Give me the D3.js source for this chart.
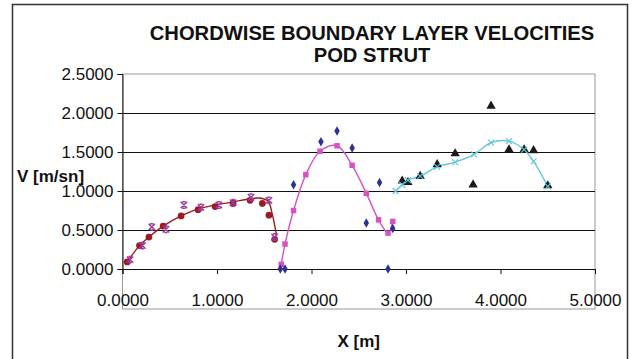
<!DOCTYPE html>
<html lang="en">
<head>
<meta charset="UTF-8" />
<title>Chordwise boundary layer velocities</title>
<style>
  body { margin: 0; background: #fff; }
  svg text { font-family: "Liberation Sans", Arial, sans-serif; fill: #111; }
</style>
</head>
<body>
<script src="https://cdn.jsdelivr.net/npm/d3@7"></script>
<div id="app"></div>
<script>
  // data (X [m], V [m/sn])
  const redCircles = [
    [0.05, 0.09], [0.18, 0.30], [0.28, 0.41], [0.43, 0.55], [0.62, 0.68], [0.80, 0.76],
    [0.98, 0.80], [1.17, 0.84], [1.35, 0.88], [1.48, 0.84], [1.55, 0.69], [1.61, 0.38]
  ];
  const redLine = [
    [0.05, 0.09], [0.18, 0.30], [0.28, 0.41], [0.43, 0.55], [0.62, 0.68], [0.80, 0.77],
    [0.98, 0.82], [1.17, 0.86], [1.35, 0.90], [1.45, 0.91], [1.54, 0.87], [1.58, 0.73], [1.63, 0.43]
  ];
  const purpleCrosses = [
    [0.08, 0.12], [0.21, 0.30], [0.31, 0.54], [0.46, 0.51], [0.65, 0.82], [0.83, 0.79],
    [1.02, 0.82], [1.17, 0.85], [1.36, 0.92], [1.55, 0.88], [1.61, 0.41]
  ];
  const pinkSquares = [
    [1.68, 0.06], [1.72, 0.32], [1.81, 0.75], [1.94, 1.21], [2.09, 1.51], [2.27, 1.58],
    [2.43, 1.33], [2.58, 0.97], [2.71, 0.63], [2.81, 0.46], [2.86, 0.61]
  ];
  const navyDiamonds = [
    [1.67, 0.00], [1.72, 0.00], [1.81, 1.08], [2.10, 1.63], [2.27, 1.77], [2.43, 1.55],
    [2.58, 0.59], [2.72, 1.11], [2.81, 0.00], [2.86, 0.52]
  ];
  const cyanCrosses = [
    [2.89, 1.00], [2.96, 1.08], [3.02, 1.14], [3.15, 1.19], [3.33, 1.31], [3.52, 1.37],
    [3.72, 1.47], [3.90, 1.62], [4.09, 1.64], [4.25, 1.53], [4.35, 1.38], [4.50, 1.06]
  ];
  const blackTriangles = [
    [2.96, 1.13], [3.02, 1.11], [3.15, 1.19], [3.33, 1.34], [3.52, 1.48], [3.71, 1.08],
    [3.90, 2.09], [4.09, 1.53], [4.25, 1.53], [4.35, 1.52], [4.50, 1.07]
  ];
  const xTicks = [0, 1, 2, 3, 4, 5];
  const yTicks = [0, 0.5, 1, 1.5, 2, 2.5];

  const w = 634, h = 359;
  const padL = 122.5, padR = 595, padT = 74, zeroY = 269, plotBottom = 309;

  const svg = d3.select("#app").append("svg")
    .attr("width", w).attr("height", h);

  svg.append("rect").attr("width", w).attr("height", h).attr("fill", "#fff");
  // outer chart frame
  svg.append("rect")
    .attr("x", 12.5).attr("y", 4.5).attr("width", 615).attr("height", 360)
    .attr("fill", "none").attr("stroke", "#333").attr("stroke-width", 1.5);

  const x = d3.scaleLinear().domain([0, 5]).range([padL, padR]);
  const y = d3.scaleLinear().domain([0, 2.5]).range([zeroY, padT]);

  // plot area border
  svg.append("rect")
    .attr("x", padL).attr("y", padT).attr("width", padR - padL).attr("height", plotBottom - padT)
    .attr("fill", "none").attr("stroke", "#999").attr("stroke-width", 1);

  // gridlines
  svg.append("g").selectAll("line")
    .data(yTicks.filter(t => t > 0 && t < 2.5))
    .enter().append("line")
    .attr("x1", padL).attr("x2", padR)
    .attr("y1", d => Math.round(y(d)) + 0.5).attr("y2", d => Math.round(y(d)) + 0.5)
    .attr("stroke", "#111").attr("stroke-width", 1);

  // axes
  const yAxis = d3.axisLeft(y).tickValues(yTicks).tickFormat(d3.format(".4f"))
    .tickSize(5).tickPadding(4);
  const gy = svg.append("g").attr("transform", "translate(" + padL + ",0)").call(yAxis);
  gy.selectAll("text").style("font-size", "17px").attr("dy", "0.35em");

  const xAxis = d3.axisBottom(x).tickValues(xTicks).tickFormat(d3.format(".4f"))
    .tickSize(5).tickPadding(20);
  const gx = svg.append("g").attr("transform", "translate(0," + zeroY + ")").call(xAxis);
  gx.selectAll("text").style("font-size", "17px");

  [gx, gy].forEach(g => {
    g.select(".domain").attr("stroke", "#111");
    g.selectAll(".tick line").attr("stroke", "#111");
  });

  // titles
  const title = svg.append("text").attr("text-anchor", "middle")
    .style("font-size", "20.2px").style("font-weight", "bold");
  title.append("tspan").attr("x", 372).attr("y", 40).text("CHORDWISE BOUNDARY LAYER VELOCITIES");
  title.append("tspan").attr("x", 372).attr("y", 62).text("POD STRUT");

  svg.append("text").attr("x", 17).attr("y", 182)
    .style("font-size", "17px").style("font-weight", "bold").text("V [m/sn]");
  svg.append("text").attr("x", (padL + padR) / 2).attr("y", 347).attr("text-anchor", "middle")
    .style("font-size", "17px").style("font-weight", "bold").text("X [m]");

  // lines
  const line = d3.line().x(d => x(d[0])).y(d => y(d[1])).curve(d3.curveCatmullRom.alpha(0.5));
  const lineSeries = [
    { data: redLine, color: "#9a1c22" },
    { data: pinkSquares, color: "#d652c4" },
    { data: cyanCrosses, color: "#62c8dc" }
  ];
  svg.append("g").selectAll("path")
    .data(lineSeries)
    .enter().append("path")
    .attr("d", d => line(d.data))
    .attr("fill", "none").attr("stroke", d => d.color).attr("stroke-width", 1.4);

  // markers
  const markerSeries = [
    { data: redCircles, color: "#9a1c22", sym: d3.symbolCircle, size: 36 },
    { data: pinkSquares, color: "#d652c4", sym: d3.symbolSquare, size: 30 },
    { data: navyDiamonds, color: "#2e3192", sym: d3.symbolDiamond, size: 26 },
    { data: blackTriangles, color: "#1a1a1a", sym: d3.symbolTriangle, size: 38 }
  ];
  markerSeries.forEach(s => {
    svg.append("g").selectAll("path")
      .data(s.data)
      .enter().append("path")
      .attr("transform", d => "translate(" + x(d[0]) + "," + y(d[1]) + ")")
      .attr("d", d3.symbol().type(s.sym).size(s.size))
      .attr("fill", s.color);
  });

  // x-shaped markers (purple ones carry short caps)
  const crossSeries = [
    { data: purpleCrosses, color: "#9b3aa0", r: 3.2, w: 1.5, cap: 1.6 },
    { data: cyanCrosses, color: "#62c8dc", r: 3, w: 1.2, cap: 0 }
  ];
  crossSeries.forEach(s => {
    const r = s.r;
    let p = "M" + -r + "," + -r + "L" + r + "," + r + "M" + r + "," + -r + "L" + -r + "," + r;
    if (s.cap) p += "M" + -s.cap + "," + -r + "H" + s.cap + "M" + -s.cap + "," + r + "H" + s.cap;
    svg.append("g").selectAll("path")
      .data(s.data)
      .enter().append("path")
      .attr("transform", d => "translate(" + x(d[0]) + "," + y(d[1]) + ")")
      .attr("d", p)
      .attr("fill", "none").attr("stroke", s.color).attr("stroke-width", s.w);
  });
</script>
</body>
</html>
